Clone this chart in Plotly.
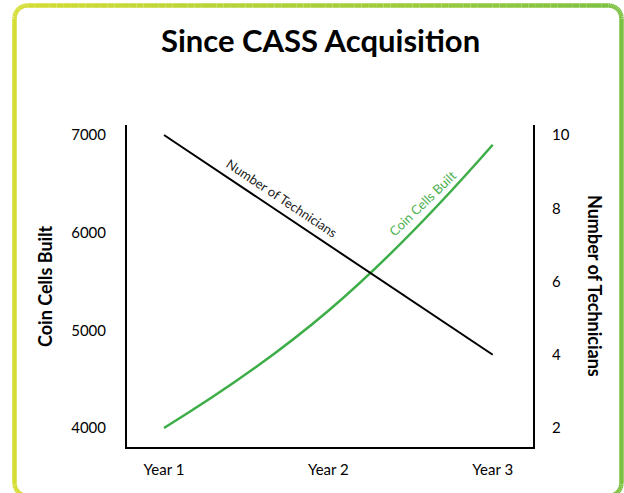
import math
import plotly.graph_objects as go

# ---- data ----
years = ["Year 1", "Year 2", "Year 3"]
year_pos = [0, 1, 2]
coin_cells = [4000, 5200, 6900]
technicians = [10, 7, 4]
left_ticks = [4000, 5000, 6000, 7000]
right_ticks = [2, 4, 6, 8, 10]

W, H = 624, 493
L, R, T, B = 127, 91, 125, 46
PW, PH = W - L - R, H - T - B


def px(x):
    return (x - L) / PW


def py(y):
    return (H - B - y) / PH


FONT = "Lato"
GREEN = "#3dae47"

fig = go.Figure()
fig.add_trace(go.Scatter(
    x=year_pos, y=technicians, yaxis="y2", mode="lines",
    line=dict(color="black", width=2), hoverinfo="skip", showlegend=False))
fig.add_trace(go.Scatter(
    x=year_pos, y=coin_cells, mode="lines",
    line=dict(color=GREEN, width=2.5, shape="spline", smoothing=1.3),
    hoverinfo="skip", showlegend=False))

# ---- gradient rounded border ----
x0, x1, y0, y1, rad = 14.5, 621.5, 5.5, 496, 13
pts = []
n = 80
for i in range(n + 1):
    pts.append((x0 + rad + (x1 - x0 - 2 * rad) * i / n, y0))
for i in range(1, 13):
    a = -math.pi / 2 + (math.pi / 2) * i / 12
    pts.append((x1 - rad + rad * math.cos(a), y0 + rad + rad * math.sin(a)))
pts.append((x1, y1 - rad))
for i in range(1, 13):
    a = (math.pi / 2) * i / 12
    pts.append((x1 - rad + rad * math.cos(a), y1 - rad + rad * math.sin(a)))
for i in range(1, n + 1):
    pts.append((x1 - rad - (x1 - x0 - 2 * rad) * i / n, y1))
for i in range(1, 13):
    a = math.pi / 2 + (math.pi / 2) * i / 12
    pts.append((x0 + rad + rad * math.cos(a), y1 - rad + rad * math.sin(a)))
pts.append((x0, y0 + rad))
for i in range(1, 13):
    a = math.pi + (math.pi / 2) * i / 12
    pts.append((x0 + rad + rad * math.cos(a), y0 + rad + rad * math.sin(a)))

c0 = (213, 221, 50)
c1 = (125, 193, 66)
shapes = []
for (ax, ay), (bx, by) in zip(pts[:-1], pts[1:]):
    t = ((ax + bx) / 2 - x0) / (x1 - x0)
    col = "rgb(%d,%d,%d)" % tuple(round(c0[k] + (c1[k] - c0[k]) * t) for k in range(3))
    shapes.append(dict(type="line", xref="paper", yref="paper",
                       x0=px(ax), y0=py(ay), x1=px(bx), y1=py(by),
                       line=dict(color=col, width=4.5), layer="above"))

annotations = [
    dict(text="<b>Since CASS Acquisition</b>", xref="paper", yref="paper",
         x=px(320), y=py(40), showarrow=False, font=dict(family=FONT, size=31, color="black"),
         xanchor="center", yanchor="middle"),
    dict(text="<b>Coin Cells Built</b>", xref="paper", yref="paper",
         x=px(45), y=py(286), showarrow=False, textangle=-90,
         font=dict(family=FONT, size=18, color="black"), xanchor="center", yanchor="middle"),
    dict(text="<b>Number of Technicians</b>", xref="paper", yref="paper",
         x=px(595), y=py(286), showarrow=False, textangle=90,
         font=dict(family=FONT, size=18, color="black"), xanchor="center", yanchor="middle"),
    dict(text="Number of Technicians", xref="x", yref="y2", x=0.717, y=8.28,
         showarrow=False, textangle=33.6, font=dict(family=FONT, size=13, color="#222"),
         xanchor="center", yanchor="middle"),
    dict(text="Coin Cells Built", xref="x", yref="y", x=1.574, y=6304,
         showarrow=False, textangle=-44, font=dict(family=FONT, size=13, color="#4cb050"),
         xanchor="center", yanchor="middle"),
]

fig.update_layout(
    width=W, height=H, margin=dict(l=L, r=R, t=T, b=B),
    paper_bgcolor="white", plot_bgcolor="white",
    font=dict(family=FONT, size=15, color="black"),
    xaxis=dict(range=[-0.225, 2.245], tickvals=year_pos, ticktext=years,
               showline=True, linecolor="black", linewidth=2, showgrid=False,
               zeroline=False, ticks="", ticklabelstandoff=8,
               tickfont=dict(family=FONT, size=15)),
    yaxis=dict(range=[3805, 7102], tickvals=left_ticks, showline=True,
               linecolor="black", linewidth=2, showgrid=False, zeroline=False,
               ticks="", ticklabelstandoff=16, tickfont=dict(family=FONT, size=15)),
    yaxis2=dict(range=[1.481, 10.273], tickvals=right_ticks, overlaying="y",
                side="right", showline=True, linecolor="black", linewidth=2,
                showgrid=False, zeroline=False, ticks="", ticklabelstandoff=14,
                tickfont=dict(family=FONT, size=15)),
    shapes=shapes, annotations=annotations, showlegend=False,
)

fig.write_html("out.html", config={"displayModeBar": False},
               post_script="document.body.style.margin='0';document.body.style.overflow='hidden';")
